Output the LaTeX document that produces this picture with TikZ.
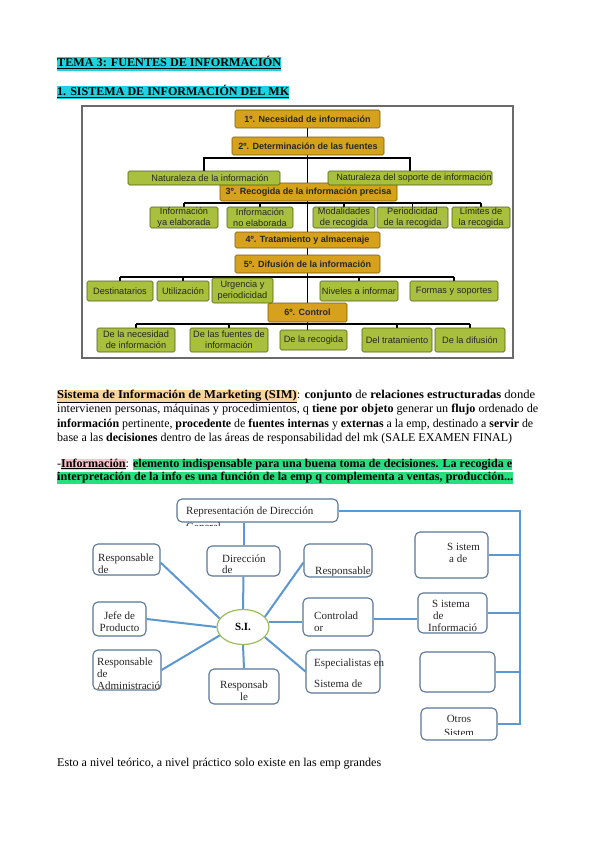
\documentclass[tikz,border=0pt]{standalone}
\usepackage{fontspec}
\setmainfont{Liberation Serif}
\newfontfamily\arialf{Liberation Sans}
\usepackage{graphicx}
\usetikzlibrary{calc,backgrounds,shapes.geometric}
\definecolor{goldF}{HTML}{D6A21E}
\definecolor{goldB}{HTML}{7A5A08}
\definecolor{grnF}{HTML}{A9C03E}
\definecolor{grnB}{HTML}{4F5E16}
\definecolor{framec}{HTML}{6A6A6A}
\definecolor{hcyan}{HTML}{1CD3E2}
\definecolor{hpeach}{HTML}{FAD49E}
\definecolor{hpink}{HTML}{F5C3CA}
\definecolor{hgreen}{HTML}{26DF7E}
\definecolor{lineB}{HTML}{5B97D0}
\definecolor{boxB}{HTML}{5A7696}
\definecolor{ellG}{HTML}{9DBD5C}
\newcommand\hlx[4]{{\setlength{\fboxsep}{0pt}\colorbox{#1}{\rule[-#3]{0pt}{#2}#4}}}
\newcommand\fitl[2]{\resizebox{#1}{\height}{#2}}
\begin{document}
\begin{tikzpicture}[x=1pt,y=-1pt,
  txt/.style={anchor=base west, inner sep=0pt, font=\fontsize{12}{14}\selectfont},
  gold/.style={draw=goldB, fill=goldF, rounded corners=1.5pt, line width=0.6pt, inner sep=0pt, align=center, text=black!85,
    font=\arialf\bfseries\fontsize{9}{10}\selectfont},
  grn/.style={draw=grnB, fill=grnF, rounded corners=1.5pt, line width=0.6pt, inner sep=0pt, align=center, text=black!85,
    font=\arialf\fontsize{9.2}{10.8}\selectfont},
  oc/.style={draw=black, line width=1.8pt},
  sbox/.style={draw=boxB, fill=white, rounded corners=5pt, line width=1.1pt, inner sep=0pt},
  blab/.style={anchor=base west, inner sep=0pt, font=\fontsize{11}{12}\selectfont, text=black!85},
  bc/.style={draw=lineB, line width=2pt}]
\useasboundingbox (0,0) rectangle (599,848);

% ---------- headings ----------
\node[txt] (h1) at (57,67) {\fitl{224pt}{\hlx{hcyan}{11pt}{4pt}{\underline{\textbf{TEMA 3: FUENTES DE INFORMACIÓN}}}}};
\node[txt] (h2t) at (57,96) {\fitl{232pt}{\hlx{hcyan}{11pt}{3.5pt}{\underline{\textbf{1. SISTEMA DE INFORMACIÓN DEL MK}}}}};

% ---------- org chart ----------
\node[gold, minimum width=145pt, minimum height=18pt] (n1) at (307.5,119) {1º. Necesidad de información};
\node[gold, minimum width=152pt, minimum height=18pt] (n2) at (308,146) {2º. Determinación de las fuentes};
\node[gold, minimum width=177pt, minimum height=18pt] (n3) at (308.5,192) {3º. Recogida de la información precisa};
\node[gold, minimum width=145pt, minimum height=16pt] (n4) at (307.5,240) {4º. Tratamiento y almacenaje};
\node[gold, minimum width=145pt, minimum height=18pt] (n5) at (307.5,264) {5º. Difusión de la información};
\node[gold, minimum width=79pt, minimum height=19pt] (n6) at (307.5,312.5) {6º. Control};

\node[grn, minimum width=152pt, minimum height=14pt] (a1) at (204,178) {\hspace*{12pt}Naturaleza de la información};
\node[grn, minimum width=164pt, minimum height=14pt] (a2) at (410,178) {\hspace*{8pt}Naturaleza del soporte de información};

\node[grn, minimum width=68pt, minimum height=21pt] (b1) at (184,217.5) {Información\\ya elaborada};
\node[grn, minimum width=66pt, minimum height=21pt] (b2) at (260,217.5) {Información\\no elaborada};
\node[grn, minimum width=62pt, minimum height=21pt] (b3) at (344,217.5) {Modalidades\\de recogida};
\node[grn, minimum width=71pt, minimum height=21pt] (b4) at (412.5,217.5) {Periodicidad\\de la recogida};
\node[grn, minimum width=58pt, minimum height=21pt] (b5) at (481,217.5) {Límites de\\la recogida};

\node[grn, minimum width=66pt, minimum height=20pt] (c1) at (120,291) {Destinatarios};
\node[grn, minimum width=52pt, minimum height=20pt] (c2) at (183,291) {Utilización};
\node[grn, minimum width=61pt, minimum height=25pt] (c3) at (242.5,290.5) {Urgencia y\\periodicidad};
\node[grn, minimum width=78pt, minimum height=20pt] (c4) at (359,291) {Niveles a informar};
\node[grn, minimum width=88pt, minimum height=20pt] (c5) at (454,291) {Formas y soportes};

\node[grn, minimum width=78pt, minimum height=24pt] (d1) at (136,340) {De la necesidad\\de información};
\node[grn, minimum width=78pt, minimum height=24pt] (d2) at (229,340) {De las fuentes de\\información};
\node[grn, minimum width=67pt, minimum height=20pt] (d3) at (313.5,340) {De la recogida};
\node[grn, minimum width=70pt, minimum height=24pt] (d4) at (397,340) {Del tratamiento};
\node[grn, minimum width=70pt, minimum height=24pt] (d5) at (470,340) {De la difusión};

\coordinate (hh2) at (0,158);
\coordinate (hh3) at (0,203);
\coordinate (hh5) at (0,277);
\coordinate (hh6) at (0,324);

\begin{pgfonlayer}{background}
\fill[white] (0,0) rectangle (599,848);
\draw[framec, line width=1.1pt] (82,106) rectangle (513,358);
\draw[oc] (n1.south) -- (n1.south |- d3.north);
\draw[oc] (a1.north) -- (a1.north |- hh2) -- (a2.north |- hh2) -- (a2.north);
\draw[oc] (b1.north |- hh3) -- (b5.north |- hh3);
\foreach \q in {b1,b2,b3,b4,b5} \draw[oc] (\q.north) -- (\q.north |- hh3);
\draw[oc] (c1.north |- hh5) -- (c5.north |- hh5);
\foreach \q in {c1,c2,c3,c4,c5} \draw[oc] (\q.north) -- (\q.north |- hh5);
\draw[oc] (d1.north |- hh6) -- (d5.north |- hh6);
\foreach \q in {d1,d2,d4,d5} \draw[oc] (\q.north) -- (\q.north |- hh6);
\end{pgfonlayer}

% ---------- paragraphs ----------
\node[txt] (p1a) at (57,398) {\fitl{478pt}{\hlx{hpeach}{11pt}{3pt}{\underline{\textbf{Sistema de Información de Marketing (SIM)}}}: \textbf{conjunto} de \textbf{relaciones estructuradas} donde}};
\node[txt] (p1b) at (57,412.5) {\fitl{481pt}{intervienen personas, máquinas y procedimientos, q \textbf{tiene por objeto} generar un \textbf{flujo} ordenado de}};
\node[txt] (p1c) at (57,427) {\fitl{476pt}{\textbf{información} pertinente, \textbf{procedente} de \textbf{fuentes internas} y \textbf{externas} a la emp, destinado a \textbf{servir} de}};
\node[txt] (p1d) at (57,441.5) {\fitl{455pt}{base a las \textbf{decisiones} dentro de las áreas de responsabilidad del mk (SALE EXAMEN FINAL)}};

\node[txt] (p2a) at (57,467) {\fitl{455pt}{-\hlx{hpink}{11pt}{3pt}{\underline{\textbf{Información}}}: \hlx{hgreen}{11pt}{3pt}{\textbf{elemento indispensable para una buena toma de decisiones. La recogida e}}}};
\node[txt] (p2b) at (57,480.5) {\fitl{456pt}{\hlx{hgreen}{11pt}{3pt}{\textbf{interpretación de la info es una función de la emp q complementa a ventas, producción...}}}};

\node[txt] (p3) at (57,766) {\fitl{324pt}{Esto a nivel teórico, a nivel práctico solo existe en las emp grandes}};

% ---------- bottom diagram ----------
\node[sbox, minimum width=161pt, minimum height=23pt] (rep) at (257.5,510.5) {};
\node[sbox, minimum width=73pt, minimum height=46pt] (sd) at (451.5,555) {};
\node[sbox, minimum width=67pt, minimum height=31pt] (r1) at (126.5,559.5) {};
\node[sbox, minimum width=73pt, minimum height=30pt] (dir) at (243.5,561) {};
\node[sbox, minimum width=68pt, minimum height=33pt] (r2) at (338,560.5) {};
\node[sbox, minimum width=69pt, minimum height=40pt] (sinf) at (452.5,613) {};
\node[sbox, minimum width=53pt, minimum height=34pt] (jefe) at (119.5,619) {};
\node[draw=ellG, fill=white, line width=1.2pt, ellipse, minimum width=52pt, minimum height=35pt, inner sep=0pt,
      font=\bfseries\fontsize{11}{12}\selectfont] (si) at (243,627) {S.I.};
\node[sbox, minimum width=70pt, minimum height=38pt] (ctrl) at (338,617) {};
\node[sbox, minimum width=68pt, minimum height=40pt] (radm) at (127,670) {};
\node[sbox, minimum width=70pt, minimum height=35pt] (r3) at (244,686.5) {};
\node[sbox, minimum width=74pt, minimum height=43pt] (esp) at (343,671.5) {};
\node[sbox, minimum width=75pt, minimum height=40pt] (emp) at (457.5,672) {};
\node[sbox, minimum width=76pt, minimum height=32pt] (otros) at (459,724) {};

\coordinate (trx) at (520,0);
\draw[bc] (rep.east) -- (rep.east -| trx) |- (otros.east);
\draw[bc] (sd.east) -- (sd.east -| trx);
\draw[bc] (sinf.east) -- (sinf.east -| trx);
\draw[bc] (emp.east) -- (emp.east -| trx);
\draw[bc] (dir.north |- rep.south) -- (dir.north);
\draw[bc] (dir.south) -- (si.north);
\draw[bc] ($(r1.east)+(0,3)$) -- (si.160);
\draw[bc] ($(r2.west)+(0,2)$) -- (si.25);
\draw[bc] (jefe.east) -- (si.west);
\draw[bc] (radm.east) -- (si.200);
\draw[bc] (r3.north) -- (si.south);
\draw[bc] (si.10) -- (si.10 -| ctrl.west);
\draw[bc] (esp.west) -- (si.335);
\draw[bc] ($(ctrl.east)+(0,2)$) -- ($(ctrl.east -| sinf.west)+(0,2)$);

% box texts
\node[blab] (trep) at (186,514) {Representación de Dirección};
\begin{scope}
\clip (170,521) rectangle (345,525.5);
\node[blab] (trep2) at (186,530) {General};
\end{scope}
\node[blab] (tsd1) at (447,550) {S istem};
\node[blab] (tsd2) at (449,562) {a de};
\node[blab] (tr1a) at (98,561.5) {Responsable};
\node[blab] (tr1b) at (98,573) {de};
\node[blab] (tdira) at (222,562) {Dirección};
\node[blab] (tdirb) at (222,573) {de};
\begin{scope}
\clip (305,560) rectangle (372,575.5);
\node[blab] (tr2) at (315,574) {Responsable};
\end{scope}
\node[blab] (tsia) at (432,607) {S istema};
\node[blab] (tsib) at (433,619) {de};
\node[blab] (tsic) at (428,631) {Informació};
\node[blab, anchor=base] (tjefa) at (119.5,619) {Jefe de};
\node[blab, anchor=base] (tjefb) at (119.5,631) {Producto};
\node[blab] (tcta) at (314,619) {Controlad};
\node[blab] (tctb) at (314,631) {or};
\node[blab] (tra) at (97,665) {Responsable};
\node[blab] (trb) at (97,677) {de};
\node[blab] (trc) at (97,689) {Administració};
\node[blab, anchor=base] (tr3a) at (244,688) {Responsab};
\node[blab, anchor=base] (tr3b) at (244,700) {le};
\node[blab] (tespa) at (314,666) {Especialistas en};
\node[blab] (tespb) at (314,687) {Sistema de};
\node[blab, anchor=base] (tota) at (459,722) {Otros};
\begin{scope}
\clip (422,725) rectangle (496,734);
\node[blab, anchor=base] (totb) at (459,736) {Sistem};
\end{scope}
\end{tikzpicture}
\end{document}
